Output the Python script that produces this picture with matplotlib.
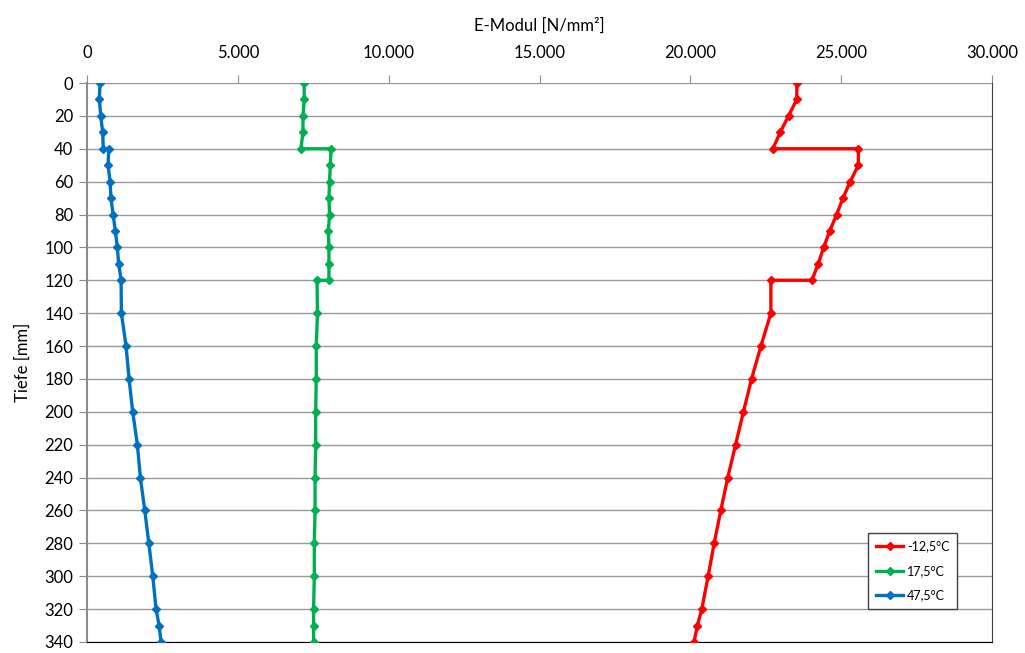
import matplotlib.pyplot as plt
from matplotlib.ticker import FuncFormatter, MultipleLocator

plt.rcParams['font.family'] = ['Lato', 'DejaVu Sans']

# Tiefe [mm] -- Schichtgrenzen bei 40 und 120 mm doppelt
tiefe = [0, 10, 20, 30, 40, 40, 50, 60, 70, 80, 90, 100, 110, 120, 120,
         140, 160, 180, 200, 220, 240, 260, 280, 300, 320, 330, 340]

# E-Modul [N/mm²] je Temperatur
e_minus12 = [23530, 23530, 23255, 22980, 22735, 25570, 25570, 25300, 25060,
             24850, 24620, 24420, 24240, 24030, 22670, 22670, 22340, 22030,
             21760, 21500, 21240, 21010, 20790, 20590, 20380, 20235, 20120]
e_17 = [7200, 7200, 7160, 7160, 7090, 8090, 8065, 8040, 8020, 8040, 8000,
        8020, 8020, 8020, 7625, 7640, 7600, 7600, 7580, 7580, 7560, 7560,
        7535, 7535, 7510, 7510, 7510]
e_47 = [430, 410, 455, 520, 540, 720, 700, 765, 795, 865, 940, 1005, 1050,
        1130, 1130, 1140, 1295, 1395, 1515, 1670, 1770, 1915, 2050, 2180,
        2290, 2390, 2455]

serien = [('-12,5°C', e_minus12, '#FF0000'),
          ('17,5°C', e_17, '#00B050'),
          ('47,5°C', e_47, '#0070C0')]

fig = plt.figure(figsize=(10.25, 6.53), dpi=100)
ax = fig.add_axes([87 / 1025, 1 - 642 / 653, 905 / 1025, 559 / 653])

for name, werte, farbe in serien:
    ax.plot(werte, tiefe, color=farbe, lw=2.4, marker='D', ms=4.5,
            label=name, zorder=3)

ax.set_xlim(0, 30000)
ax.set_ylim(340, 0)
ax.xaxis.set_major_locator(MultipleLocator(5000))
ax.yaxis.set_major_locator(MultipleLocator(20))
ax.xaxis.set_major_formatter(FuncFormatter(lambda v, p: f'{int(v):,}'.replace(',', '.')))
ax.xaxis.tick_top()
ax.xaxis.set_label_position('top')

ax.grid(axis='y', color='#999999', lw=1.0)
ax.set_axisbelow(True)
ax.tick_params(axis='both', labelsize=12, length=6, color='#8c8c8c', pad=4)
ax.tick_params(axis='x', pad=10)

for s in ['left', 'top']:
    ax.spines[s].set_color('#8c8c8c')
ax.spines['top'].set_visible(False)
ax.spines['bottom'].set_color('#000000')
ax.spines['right'].set_color('#404040')
ax.spines['left'].set_linewidth(1.5)

ax.set_xlabel('E-Modul [N/mm²]', fontsize=12, labelpad=10)
ax.set_ylabel('Tiefe [mm]', fontsize=12, labelpad=10)

leg = ax.legend(loc='lower right', bbox_to_anchor=(957 / 1025, 1 - 609 / 653),
                bbox_transform=fig.transFigure, borderaxespad=0, fontsize=9,
                fancybox=False, framealpha=1, edgecolor='#404040',
                handlelength=2.2, handletextpad=0.3, labelspacing=1.0,
                borderpad=0.6)
leg.get_frame().set_linewidth(1.0)

fig.savefig('out.png', dpi=100)
